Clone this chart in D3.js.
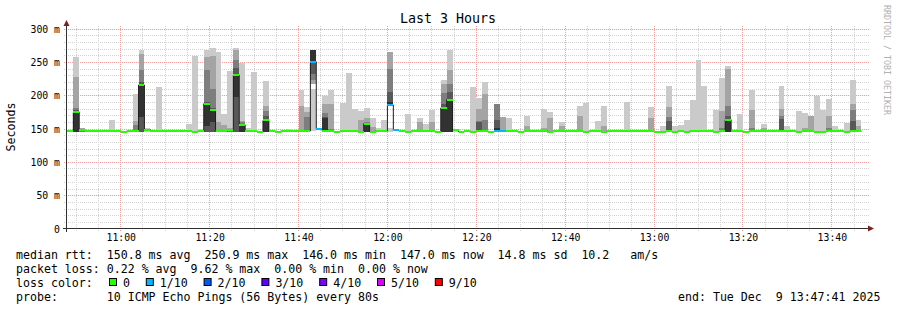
<!DOCTYPE html>
<html>
<head>
<meta charset="utf-8">
<script src="https://cdn.jsdelivr.net/npm/d3@7"></script>
<style>
body { margin: 0; background: #fff; }
text { font-family: "DejaVu Sans Mono", monospace; fill: #000; white-space: pre; }
</style>
</head>
<body>
<div id="chart"></div>
<script>
const width = 897;
const height = 310;

const startTime = new Date(2025, 11, 9, 10, 47, 41);
const endTime = new Date(2025, 11, 9, 13, 47, 41);
const firstSample = new Date(2025, 11, 9, 10, 48, 0);
const stepSeconds = 80;

// median rtt per 80s step (ms)
const medianMs = [
    147, 175, 149, 147, 147, 147, 147, 147, 147, 146,
    147, 147, 216, 149, 147, 147, 147, 147, 147, 147,
    147, 146, 147, 188, 179, 148, 147, 148, 231, 156,
    147, 147, 146, 163, 147.5, 146, 147, 147, 147, 147,
    147, 250.9, 149.8, 147, 147, 146, 147, 147, 147, 146,
    158, 146, 147, 147, 186, 148, 147, 146, 147, 147,
    147, 147, 146, 181.5, 194, 148, 146, 147, 146, 147,
    147, 146, 147, 147, 147, 147, 146, 147, 147, 147,
    147, 146, 147, 147, 147, 147, 147, 146, 147, 147,
    146, 147, 147, 147, 147, 147, 147, 147, 147, 146,
    146, 147, 146, 147, 146, 147, 147, 147, 147, 146,
    147, 164, 147, 147, 146, 147, 147, 147, 147, 147,
    147, 147, 147, 146, 147, 147, 146, 146, 147, 147,
    147, 146, 147, 147
];

// lost pings out of 10 per step
const lossCount = [
    0, 0, 0, 0, 0, 0, 0, 0, 0, 0,  0, 0, 0, 0, 0, 0, 0, 0, 0, 0,
    0, 0, 0, 0, 0, 0, 0, 0, 0, 0,  0, 0, 0, 0, 0, 0, 0, 0, 0, 0,
    0, 1, 1, 0, 0, 0, 0, 0, 0, 0,  0, 0, 0, 0, 1, 1, 0, 0, 0, 0,
    0, 0, 0, 0, 0, 0, 0, 0, 0, 0,  0, 0, 1, 1, 0, 0, 0, 0, 0, 0,
    0, 0, 0, 0, 0, 0, 0, 0, 0, 0,  0, 0, 0, 0, 0, 0, 0, 0, 0, 0,
    0, 0, 0, 0, 0, 0, 0, 0, 0, 0,  0, 0, 0, 0, 0, 0, 0, 0, 0, 0,
    0, 0, 0, 0, 0, 0, 0, 0, 0, 0,  0, 0, 0, 0
];

// smoke bands per step, outer pair first: a number is the band top (bottom = smokeBase),
// a pair is [low, high], null means the band is missing
const smokeBase = 146;
const smoke = [
    null, [258, 228, 182, 178, 175], [152, 151, 150], null, null,
    null, null, [163], null, null,
    null, [202, 162, 156], [269, 262, 238, 220, [168, 216]], [151], null,
    [213], null, [149], null, null,
    [157], [260], [150], [269, 258, 238, 191, [155, 188]], [272, 259, 210, 182, [160, 179]],
    [266, 160], [173, 156], [237, 152, 150], [272, 268, 253, 242, [198, 231]], [249, 162, 160, 158, 156],
    [151], [235], null, [222, 184, 177, 170, 163], null,
    null, null, [150], null, [208, 185],
    [183, 175, 168], [[147, 210], [218, 269], [224, 269], [233, 269], [252, 269]], null, [200, 187, 174, 168, 167], [208, 187, 150],
    null, [189], [234], [180], [177, 163],
    [181, 167, 160, 159, 158], [167, 153], [152], [164], [[146, 151], [186, 266], [186, 240], [186, 205], [186, 190]],
    null, null, [172], null, [166, 160],
    [157], [179, 160], null, [223, 218, 204, 188, 182], [269, 239, 218, 205, 194],
    [150], null, null, [213], [196, 180, 162, 161],
    [221, 202, 163], null, [null, null, 187, 164, 152], [null, 168], [166],
    null, null, [169, 154], null, null,
    [180, 151], [175, 166], null, [160, 155], null,
    null, [184, 170], [189], null, [162],
    [184, 154], null, null, null, [190],
    null, null, null, [183, 167], null,
    [154], [215, 183, 168, 162], [155], [156], [163],
    [193], [253], [214], null, [178],
    [226, 177, 152], [244, 240, 185, 170, 164], null, [172], null,
    [208, 178, 152], null, [157, 152], null, null,
    [214, 180, 170, 165], [154], null, [177], [174, 152],
    [170, 169], [199], [179], [195, 170, 152], [154],
    null, [159], [223, 188, 179, 162], [164, 155]
];

const smokeColors = ["#cacaca", "#a4a4a4", "#7e7e7e", "#585858", "#323232"];
const lossLabels = ["0", "1/10", "2/10", "3/10", "4/10", "5/10", "9/10"];
const lossColors = ["#26ff00", "#00b8ff", "#0059ff", "#5e00ff", "#7e00ff", "#dd00ff", "#ff0000"];
const yTicks = [0, 50, 100, 150, 200, 250, 300];

const legendLines = [
    "median rtt:  150.8 ms avg  250.9 ms max  146.0 ms min  147.0 ms now  14.8 ms sd  10.2   am/s",
    "packet loss: 0.22 % avg  9.62 % max  0.00 % min  0.00 % now",
    "loss color:",
    "probe:       10 ICMP Echo Pings (56 Bytes) every 80s"
];
const endLabel = "end: Tue Dec  9 13:47:41 2025";

const svg = d3.select("#chart")
    .append("svg")
    .attr("width", width)
    .attr("height", height);

svg.append("rect").attr("width", width).attr("height", height).attr("fill", "#fff");

const x = d3.scaleTime().domain([startTime, endTime]).range([66, 866]);
const y = d3.scaleLinear().domain([0, 300]).range([229, 29]);

const sampleTime = i => new Date(firstSample.getTime() + i * stepSeconds * 1000);
const samples = medianMs.map((m, i) => ({
    t0: sampleTime(i),
    t1: sampleTime(i + 1),
    median: m,
    loss: lossCount[i],
    bands: smoke[i]
}));

// grid
const grid = svg.append("g").attr("stroke-dasharray", "1,1").attr("stroke-width", 1);
const minorTimes = d3.timeMinute.every(5).range(startTime, endTime);
const majorTimes = d3.timeMinute.every(20).range(startTime, endTime);

grid.selectAll("line.ym")
    .data(d3.range(10, 301, 10).filter(v => v % 50 !== 0))
    .join("line")
    .attr("x1", 64).attr("x2", 869)
    .attr("y1", d => Math.floor(y(d)) + 0.5)
    .attr("y2", d => Math.floor(y(d)) + 0.5)
    .attr("stroke", "#d2d2d2");

grid.selectAll("line.xm")
    .data(minorTimes.filter(t => t.getMinutes() % 20 !== 0))
    .join("line")
    .attr("x1", d => Math.floor(x(d)) + 0.5)
    .attr("x2", d => Math.floor(x(d)) + 0.5)
    .attr("y1", 26).attr("y2", 231)
    .attr("stroke", "#d2d2d2");

grid.selectAll("line.yM")
    .data(yTicks.filter(v => v > 0))
    .join("line")
    .attr("x1", 64).attr("x2", 869)
    .attr("y1", d => Math.floor(y(d)) + 0.5)
    .attr("y2", d => Math.floor(y(d)) + 0.5)
    .attr("stroke", "#efa0a0");

grid.selectAll("line.xM")
    .data(majorTimes)
    .join("line")
    .attr("x1", d => Math.floor(x(d)) + 0.5)
    .attr("x2", d => Math.floor(x(d)) + 0.5)
    .attr("y1", 26).attr("y2", 231)
    .attr("stroke", "#efa0a0");

// smoke
const smokeG = svg.append("g").attr("shape-rendering", "crispEdges");
smokeColors.forEach((color, b) => {
    const rows = samples
        .filter(s => s.bands && s.bands[b] != null)
        .map(s => {
            const band = s.bands[b];
            const lo = Array.isArray(band) ? band[0] : smokeBase;
            const hi = Array.isArray(band) ? band[1] : band;
            return { t0: s.t0, t1: s.t1, lo, hi };
        });
    smokeG.append("g")
        .selectAll("rect")
        .data(rows)
        .join("rect")
        .attr("x", d => x(d.t0))
        .attr("width", d => x(d.t1) - x(d.t0))
        .attr("y", d => y(d.hi))
        .attr("height", d => y(d.lo) - y(d.hi))
        .attr("fill", color);
});

// median step line
const stepPoints = samples.map(s => [s.t0, s.median]);
stepPoints.push([samples[samples.length - 1].t1, samples[samples.length - 1].median]);
svg.append("path")
    .datum(stepPoints)
    .attr("fill", "none")
    .attr("stroke", "#202020")
    .attr("stroke-width", 1)
    .attr("d", d3.line().x(d => x(d[0])).y(d => y(d[1])).curve(d3.curveStepAfter));

// median coloured by loss
svg.append("g")
    .attr("shape-rendering", "crispEdges")
    .selectAll("rect")
    .data(samples)
    .join("rect")
    .attr("x", d => x(d.t0))
    .attr("width", d => x(d.t1) - x(d.t0))
    .attr("y", d => y(d.median + 1.5))
    .attr("height", d => y(d.median - 1.5) - y(d.median + 1.5))
    .attr("fill", d => lossColors[d.loss]);

// axes
const yAxis = svg.append("g")
    .attr("transform", "translate(66,0)")
    .call(d3.axisLeft(y).tickValues(yTicks).tickSize(0).tickPadding(6)
        .tickFormat(v => v === 0 ? "0" : v + " m"));
yAxis.select(".domain").remove();
yAxis.selectAll("text").style("font-family", "DejaVu Sans Mono").style("font-size", "9.8px").attr("fill", "#000");

const xAxis = svg.append("g")
    .attr("transform", "translate(0,229)")
    .call(d3.axisBottom(x).tickValues(majorTimes).tickSize(0).tickPadding(5)
        .tickFormat(d3.timeFormat("%H:%M")));
xAxis.select(".domain").remove();
xAxis.selectAll("text").style("font-family", "DejaVu Sans Mono").style("font-size", "9.8px").attr("fill", "#000");

svg.append("line").attr("x1", 66.5).attr("x2", 66.5).attr("y1", 232).attr("y2", 24)
    .attr("stroke", "#303030");
svg.append("line").attr("x1", 63).attr("x2", 870).attr("y1", 228.5).attr("y2", 228.5)
    .attr("stroke", "#303030");
svg.append("path").attr("d", "M63.5,26 L66.5,20 L69.5,26 Z").attr("fill", "#7f1f1f");
svg.append("path").attr("d", "M868,225.5 L874,228.5 L868,231.5 Z").attr("fill", "#7f1f1f");

// titles
svg.append("text")
    .attr("x", 448).attr("y", 23)
    .attr("text-anchor", "middle")
    .style("font-size", "13.3px")
    .text("Last 3 Hours");

svg.append("text")
    .attr("transform", "translate(14.5,127) rotate(-90)")
    .attr("text-anchor", "middle")
    .style("font-size", "11.6px")
    .text("Seconds");

svg.append("text")
    .attr("transform", "translate(884,5) rotate(90)")
    .style("font-size", "8.3px")
    .style("fill", "#b0b0b0")
    .text("RRDTOOL / TOBI OETIKER");

// legend
const legend = svg.append("g").style("font-size", "11.6px");
legend.selectAll("text.line")
    .data(legendLines)
    .join("text")
    .attr("xml:space", "preserve")
    .style("white-space", "pre")
    .attr("x", 16)
    .attr("y", (d, i) => 259 + i * 14)
    .text(d => d);

let lx = 109;
lossLabels.forEach((label, i) => {
    legend.append("rect")
        .attr("x", lx + 0.5).attr("y", 278.5)
        .attr("width", 7).attr("height", 7)
        .attr("fill", lossColors[i])
        .attr("stroke", "#000");
    legend.append("text")
        .attr("x", lx + 14).attr("y", 287)
        .text(label);
    lx += 14 + label.length * 7 + 15.8;
});

legend.append("text")
    .attr("xml:space", "preserve")
    .style("white-space", "pre")
    .attr("x", 678).attr("y", 301)
    .text(endLabel);
</script>
</body>
</html>
